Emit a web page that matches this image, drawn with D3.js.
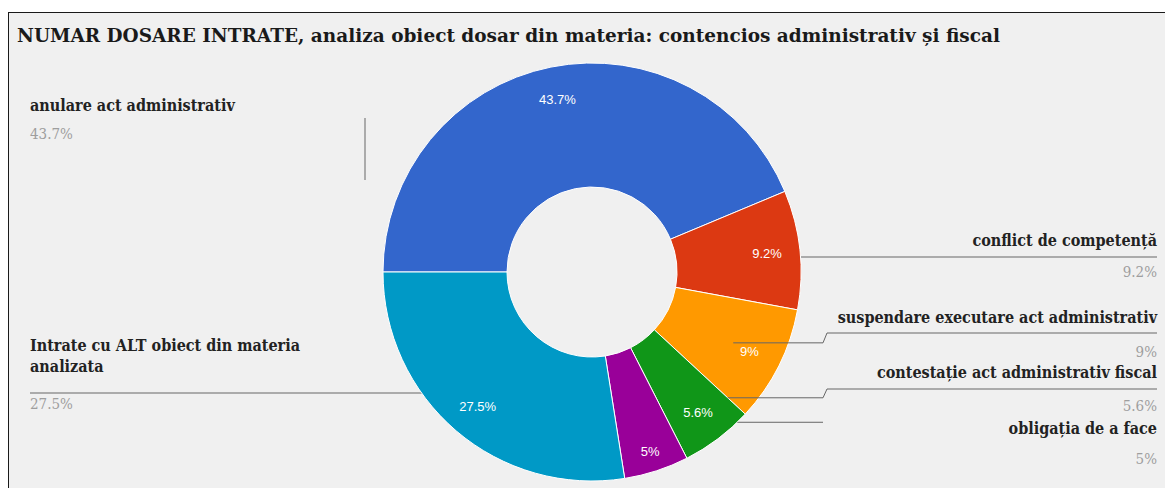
<!DOCTYPE html>
<html>
<head>
<meta charset="utf-8">
<script src="https://cdn.jsdelivr.net/npm/d3@7/dist/d3.min.js"></script>
<style>
  html, body { margin: 0; padding: 0; background: #ffffff; }
  svg { display: block; }
</style>
</head>
<body>
<svg id="chart" width="1165" height="488"></svg>
<script>
// ---------------- DATA ----------------
const title = "NUMAR DOSARE INTRATE, analiza obiect dosar din materia: contencios administrativ și fiscal";
const categories = [
  "anulare act administrativ",
  "conflict de competență",
  "suspendare executare act administrativ",
  "contestație act administrativ fiscal",
  "obligația de a face",
  "Intrate cu ALT obiect din materia analizata"
];
const values = [43.7, 9.2, 9, 5.6, 5, 27.5];
const colors = ["#3366cc", "#dc3912", "#ff9900", "#109618", "#990099", "#0099c6"];

// ---------------- LAYOUT ----------------
const W = 1165, H = 488;
const cx = 592, cy = 272, R = 209, R0 = 85;
const insideLabelR = 176;
const leaderR = 158;
const rightX = 1157, leftX = 30, bendX = 823;

// per-slice legend layout (positions only)
const legendLayout = [
  { side: "left",  textY: 111, valueY: 139, wrap: null, underlineY: null, leader: "vertical", vx: 365, vy1: 118, vy2: 180 },
  { side: "right", textY: 246, valueY: 277, wrap: null, underlineY: 257, leader: "behind" },
  { side: "right", textY: 323, valueY: 357, wrap: null, underlineY: 333, leader: "top-mid" },
  { side: "right", textY: 378, valueY: 411, wrap: null, underlineY: 389, leader: "top-start", startR: 185 },
  { side: "right", textY: 434, valueY: 464, wrap: null, underlineY: null, leader: "behind-end", labelR: 188 },
  { side: "left",  textY: 351, valueY: 409, wrap: 6, lineGap: 21, underlineY: 393, leader: "behind" }
];

const svg = d3.select("#chart");

// frame
svg.append("rect")
  .attr("x", 8.5).attr("y", 12.5)
  .attr("width", W + 10).attr("height", H + 10)
  .attr("fill", "#f0f0f0")
  .attr("stroke", "#1a1a1a").attr("stroke-width", 1);

// title
svg.append("text")
  .attr("x", 17).attr("y", 42)
  .attr("font-family", "'DejaVu Serif', serif")
  .attr("font-weight", "bold")
  .attr("font-size", 18)
  .attr("fill", "#1a1a1a")
  .attr("textLength", 983)
  .attr("lengthAdjust", "spacingAndGlyphs")
  .text(title);

const pie = d3.pie().sort(null).value(d => d)
  .startAngle(-Math.PI / 2).endAngle(3 * Math.PI / 2);
const arcs = pie(values);
const arc = d3.arc().innerRadius(R0).outerRadius(R);

function polar(angle, r) {
  return [cx + r * Math.sin(angle), cy - r * Math.cos(angle)];
}

const behindG = svg.append("g");
const sliceG = svg.append("g");
const topG = svg.append("g");

sliceG.selectAll("path")
  .data(arcs)
  .join("path")
  .attr("transform", `translate(${cx},${cy})`)
  .attr("d", arc)
  .attr("fill", (d, i) => colors[i])
  .attr("stroke", "#ffffff")
  .attr("stroke-width", 1);

const lineColor = "#666666";

arcs.forEach((d, i) => {
  const L = legendLayout[i];
  const mid = (d.startAngle + d.endAngle) / 2;
  let pts = null, g = behindG;
  if (L.leader === "vertical") {
    behindG.append("line")
      .attr("x1", L.vx).attr("x2", L.vx)
      .attr("y1", L.vy1).attr("y2", L.vy2)
      .attr("stroke", lineColor).attr("stroke-width", 1);
    return;
  }
  let start;
  if (L.leader === "top-start") { start = polar(d.startAngle, L.startR); g = topG; }
  else if (L.leader === "top-mid") { start = polar(mid, leaderR); g = topG; }
  else start = polar(mid, leaderR);

  if (L.side === "left") {
    pts = [[start[0], L.underlineY], [leftX, L.underlineY]];
  } else if (L.underlineY == null) {
    pts = [[start[0], start[1]], [bendX, start[1]]];
  } else if (Math.abs(start[1] - L.underlineY) < 5) {
    pts = [[start[0], L.underlineY], [rightX, L.underlineY]];
  } else {
    pts = [[start[0], start[1]], [bendX, start[1]], [bendX + 4, L.underlineY], [rightX, L.underlineY]];
  }
  g.append("path")
    .attr("d", d3.line()(pts))
    .attr("fill", "none")
    .attr("stroke", lineColor).attr("stroke-width", 1);
});

// in-slice percentage labels
svg.append("g").selectAll("text")
  .data(arcs)
  .join("text")
  .each(function (d, i) {
    const r = legendLayout[i].labelR || insideLabelR;
    const p = polar((d.startAngle + d.endAngle) / 2, r);
    d3.select(this).attr("x", p[0]).attr("y", p[1] + 5);
  })
  .attr("text-anchor", "middle")
  .attr("font-family", "'Liberation Sans', Arial, sans-serif")
  .attr("font-size", 13)
  .attr("fill", "#ffffff")
  .text(d => d.data + "%");

// legend labels
const labelG = svg.append("g");
arcs.forEach((d, i) => {
  const L = legendLayout[i];
  const words = categories[i].split(" ");
  const lines = L.wrap ? [words.slice(0, L.wrap).join(" "), words.slice(L.wrap).join(" ")] : [categories[i]];
  const x = L.side === "left" ? leftX : rightX;
  const anchor = L.side === "left" ? "start" : "end";
  lines.forEach((t, k) => {
    labelG.append("text")
      .attr("x", x).attr("y", L.textY + k * (L.lineGap || 0))
      .attr("text-anchor", anchor)
      .attr("font-family", "'DejaVu Serif Condensed', 'DejaVu Serif', serif")
      .attr("font-weight", "bold")
      .attr("font-size", 16)
      .attr("fill", "#222222")
      .text(t);
  });
  labelG.append("text")
    .attr("x", x).attr("y", L.valueY)
    .attr("text-anchor", anchor)
    .attr("font-family", "'DejaVu Serif Condensed', 'DejaVu Serif', serif")
    .attr("font-size", 15)
    .attr("fill", "#9e9e9e")
    .text(d.data + "%");
});
</script>
</body>
</html>
